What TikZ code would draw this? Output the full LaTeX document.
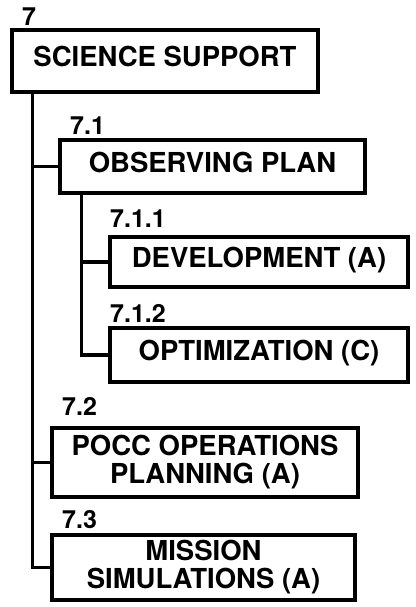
\documentclass[tikz,border=0pt]{standalone}
\usepackage{fontspec}
\setmainfont{TeX Gyre Heros}
\usetikzlibrary{positioning}

\begin{document}
\begin{tikzpicture}[
      x=1pt, y=-1pt,
      every node/.style={font=\bfseries\fontsize{27.5}{28}\selectfont},
      box/.style={draw, line width=3.2pt, inner sep=0pt, align=center},
      oneline/.style={text height=20pt, text depth=9pt},
      num/.style={anchor=base west, inner sep=0pt, font=\bfseries\fontsize{25}{25}\selectfont},
      link/.style={line width=3.2pt}
    ]
      \useasboundingbox (0,0) rectangle (415,607);
      \node[box, oneline, minimum width=306pt, minimum height=62pt] (n7) at (165,61) {SCIENCE SUPPORT};
      \node[box, oneline, minimum width=305pt, minimum height=53pt] (n71) at (212.5,166.5) {OBSERVING PLAN};
      \node[box, oneline, minimum width=298pt, minimum height=50pt] (n711) at (259,262) {DEVELOPMENT (A)};
      \node[box, oneline, minimum width=298pt, minimum height=54pt] (n712) at (259,355) {OPTIMIZATION (C)};
      \node[box, minimum width=306pt, minimum height=69pt] (n72) at (205,462.5) {POCC OPERATIONS\\PLANNING (A)};
      \node[box, minimum width=303pt, minimum height=65pt] (n73) at (203.5,567.5) {MISSION\\SIMULATIONS (A)};
      \node[num] (l7) at (22,26) {7};
      \node[num] (l71) at (70,135) {7.1};
      \node[num] (l711) at (110,227) {7.1.1};
      \node[num] (l712) at (110,322) {7.1.2};
      \node[num] (l72) at (62,415) {7.2};
      \node[num] (l73) at (62,528) {7.3};
      \draw[link] ([xshift=22pt]n7.south west) |- (n71.west);
      \draw[link] ([xshift=22pt]n7.south west) |- (n72.west);
      \draw[link] ([xshift=22pt]n7.south west) |- (n73.west);
      \draw[link] ([xshift=23pt]n71.south west) |- (n711.west);
      \draw[link] ([xshift=23pt]n71.south west) |- (n712.west);
    \end{tikzpicture}
\end{document}
